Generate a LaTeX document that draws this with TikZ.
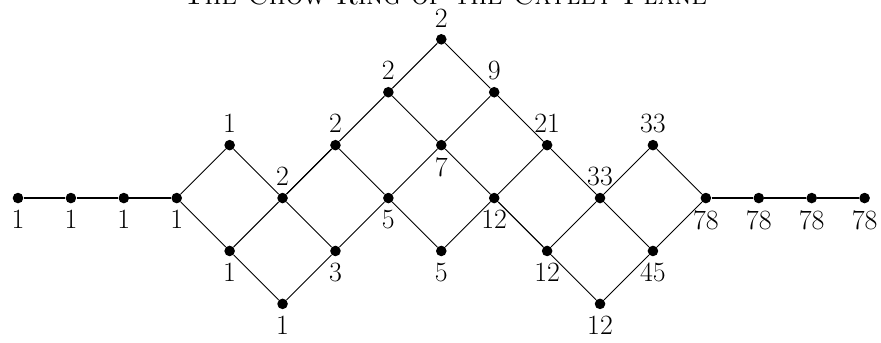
\documentclass[tikz,border=0pt]{standalone}
\usepackage{amsmath, amssymb}
\usepackage{xcolor}
\usepackage{tikz}
\usetikzlibrary{positioning, calc}

\tikzset{
    dot/.style={circle, fill=black, inner sep=0pt, minimum size=0.2cm},
    rung/.style={line width=0.5pt},
    chain/.style={line width=1.2pt},
    every label/.append style={font=\fontsize{15}{18}\selectfont}
}

\begin{document}
\begin{tikzpicture}
    \useasboundingbox (-0.34,-2.722) rectangle (16.31,3.743);
    \node (title) at (8.07,3.66) [anchor=base] {\fontsize{14.8}{18}\selectfont\scshape The Chow Ring of the Cayley Plane};

    % left chain
    \node (n0d) at (0,0) [dot, label=below:1] {};
    \node (n1d) at (1,0) [dot, label=below:1] {};
    \node (n2d) at (2,0) [dot, label=below:1] {};
    \node (n3d) at (3,0) [dot, label=below:1] {};

    % the diamond part
    \node (n4c) at (4,1) [dot, label=above:1] {};
    \node (n4e) at (4,-1) [dot, label=below:1] {};
    \node (n5d) at (5,0) [dot, label=above:2] {};
    \node (n5f) at (5,-2) [dot, label=below:1] {};
    \node (n6c) at (6,1) [dot, label=above:2] {};
    \node (n6e) at (6,-1) [dot, label=below:3] {};
    \node (n7b) at (7,2) [dot, label=above:2] {};
    \node (n7d) at (7,0) [dot, label=below:5] {};
    \node (n8a) at (8,3) [dot, label=above:2] {};
    \node (n8c) at (8,1) [dot, label=below:7] {};
    \node (n8e) at (8,-1) [dot, label=below:5] {};
    \node (n9b) at (9,2) [dot, label=above:9] {};
    \node (n9d) at (9,0) [dot, label=below:12] {};
    \node (n10c) at (10,1) [dot, label=above:21] {};
    \node (n10e) at (10,-1) [dot, label=below:12] {};
    \node (n11d) at (11,0) [dot, label=above:33] {};
    \node (n11f) at (11,-2) [dot, label=below:12] {};
    \node (n12c) at (12,1) [dot, label=above:33] {};
    \node (n12e) at (12,-1) [dot, label=below:45] {};

    % right chain
    \node (n13d) at (13,0) [dot, label=below:78] {};
    \node (n14d) at (14,0) [dot, label=below:78] {};
    \node (n15d) at (15,0) [dot, label=below:78] {};
    \node (n16d) at (16,0) [dot, label=below:78] {};

    \draw[chain] (n0d) -- (n1d) -- (n2d) -- (n3d);
    \draw[chain] (n13d) -- (n14d) -- (n15d) -- (n16d);

    \draw[rung] (n3d) -- (n4c) -- (n5d) -- (n6c) -- (n7b) -- (n8a) -- (n9b) -- (n10c) -- (n11d) -- (n12c) -- (n13d);
    \draw[rung] (n3d) -- (n4e) -- (n5f) -- (n6e) -- (n7d) -- (n8e) -- (n9d) -- (n10e) -- (n11f) -- (n12e) -- (n13d);
    \draw[rung] (n4e) -- (n5d) -- (n6e);
    \draw[rung] (n5d) -- (n6c);
    \draw[rung] (n6c) -- (n7d) -- (n8c) -- (n9b);
    \draw[rung] (n7b) -- (n8c) -- (n9d) -- (n10c);
    \draw[rung] (n9d) -- (n10e) -- (n11d) -- (n12e);
\end{tikzpicture}
\end{document}
